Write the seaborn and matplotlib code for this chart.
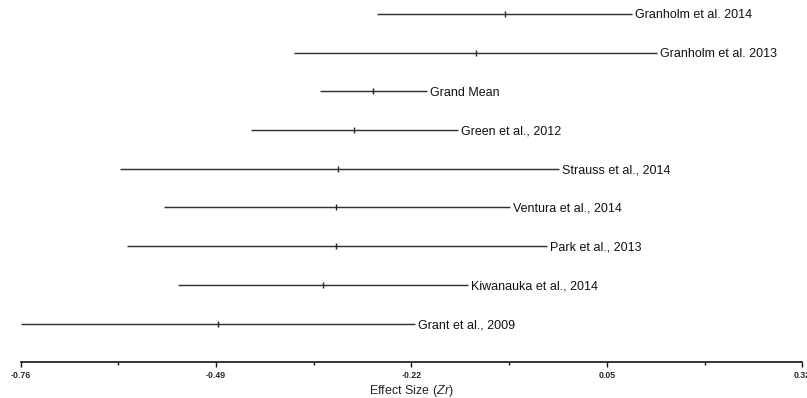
import numpy as np
import matplotlib
matplotlib.use("Agg")
import matplotlib.pyplot as plt
import seaborn as sns
import pandas as pd

# ---- data ----
studies = ["Granholm et al. 2014", "Granholm et al. 2013", "Grand Mean",
           "Green et al., 2012", "Strauss et al., 2014", "Ventura et al., 2014",
           "Park et al., 2013", "Kiwanauka et al., 2014", "Grant et al., 2009"]
effect = [-0.091, -0.131, -0.273, -0.299, -0.321, -0.324, -0.324, -0.342, -0.488]
ci_low = [-0.268, -0.382, -0.347, -0.442, -0.623, -0.562, -0.613, -0.542, -0.760]
ci_high = [0.084, 0.119, -0.198, -0.156, -0.016, -0.084, -0.033, -0.142, -0.215]
xticks_major = [-0.76, -0.49, -0.22, 0.05, 0.32]
xticks_minor = [-0.625, -0.355, -0.085, 0.185]
xtick_labels = ["-0.76", "-0.49", "-0.22", "0.05", "0.32"]

sns.set_style("white")
plt.rcParams['font.family'] = ['Liberation Sans', 'DejaVu Sans']
plt.rcParams['mathtext.fontset'] = 'custom'
plt.rcParams['mathtext.rm'] = 'Liberation Sans'
plt.rcParams['mathtext.it'] = 'Liberation Sans:italic'

df = pd.DataFrame({"study": studies, "effect": effect,
                   "lo": ci_low, "hi": ci_high})
df["row"] = np.arange(len(df))

W, H = 807, 398
fig = plt.figure(figsize=(W / 100, H / 100), dpi=100)
x0, x1 = 20.7, 802.3
ybot = 362.3
ax = fig.add_axes([x0 / W, 1 - ybot / H, (x1 - x0) / W, ybot / H])

line_col = "#333333"
ax.hlines(df["row"], df["lo"], df["hi"], color=line_col, lw=1.05)
sns.scatterplot(data=df, x="effect", y="row", marker="|", s=18,
                color="#222222", linewidth=1.0, ax=ax, legend=False, zorder=3)

for _, r in df.iterrows():
    ax.annotate(r["study"], xy=(r["hi"], r["row"]), xytext=(2.2, -1.1),
                textcoords="offset points", va="center", ha="left",
                fontsize=9, color="#111111")

ax.set_xlim(-0.76, 0.32)
ax.set_ylim(9, -0.36)
ax.set_yticks([])
ax.set_ylabel("")
ax.set_xticks(xticks_major)
ax.set_xticklabels(xtick_labels, fontsize=6.3, fontweight="bold")
ax.set_xticks(xticks_minor, minor=True)
ax.tick_params(axis="x", which="major", direction="out", length=3.6, width=1.0,
               pad=2.8, color="#111111", bottom=True)
ax.tick_params(axis="x", which="minor", direction="out", length=2.2, width=1.0,
               color="#111111", bottom=True)
for s in ["left", "top", "right"]:
    ax.spines[s].set_visible(False)
ax.spines["bottom"].set_color("#111111")
ax.spines["bottom"].set_linewidth(1.2)
ax.set_xlabel("Effect Size ($\\mathit{Zr}$)", fontsize=9, labelpad=2.2)

fig.savefig("out.png", dpi=100)
